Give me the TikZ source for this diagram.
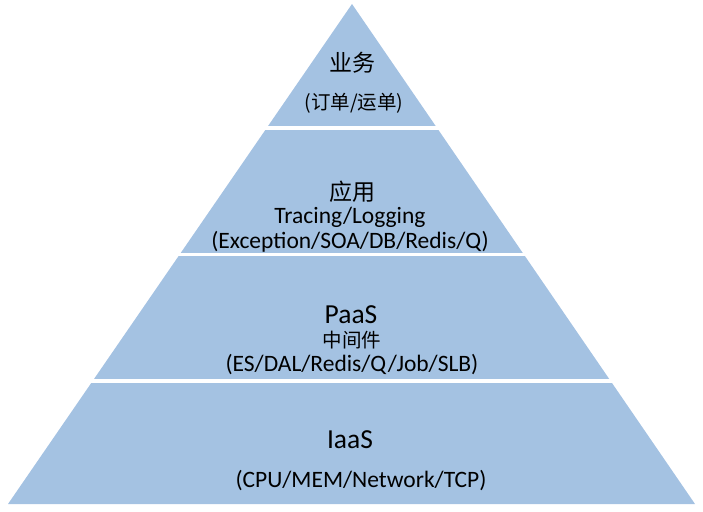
\documentclass[tikz,border=0pt]{standalone}
\usepackage{fontspec}
\setmainfont{Carlito}
\newfontfamily\cjk{Noto Sans CJK SC}
\definecolor{tierblue}{RGB}{164,194,226}
\begin{document}
\begin{tikzpicture}[x=1pt,y=-1pt,
  title/.style={font=\fontsize{27.5}{30}\selectfont, inner sep=0pt, anchor=center},
  ctitle/.style={font=\cjk\fontsize{23}{26}\selectfont, inner sep=0pt, anchor=center},
  sub/.style={font=\fontsize{23.5}{26}\selectfont, inner sep=0pt, anchor=center},
  csub/.style={font=\cjk\fontsize{19.5}{22}\selectfont, inner sep=0pt, anchor=center},
  sep/.style={draw=white, line width=3.5pt}]
\useasboundingbox (0,0) rectangle (703,511);
\fill[tierblue] (352,4) -- (695,504) -- (8,504) -- cycle;
\draw[sep] (0,128) -- (703,128);
\draw[sep] (0,254.5) -- (703,254.5);
\draw[sep] (0,381) -- (703,381);
\node[ctitle] (t1) at (352,63) {业务};
\node[csub] (s1) at (354,103) {(订单/运单)};
\node[ctitle] (t2) at (352,192) {应用};
\node[sub] (s2a) at (350,217) {Tracing/Logging};
\node[sub] (s2b) at (350,242) {(Exception/SOA/DB/Redis/Q)};
\node[title] (t3) at (351,315) {PaaS};
\node[csub] (s3a) at (352,340) {中间件};
\node[sub] (s3b) at (352,365) {(ES/DAL/Redis/Q/Job/SLB)};
\node[title] (t4) at (350,440) {IaaS};
\node[sub] (s4) at (361,481) {(CPU/MEM/Network/TCP)};
\end{tikzpicture}
\end{document}
